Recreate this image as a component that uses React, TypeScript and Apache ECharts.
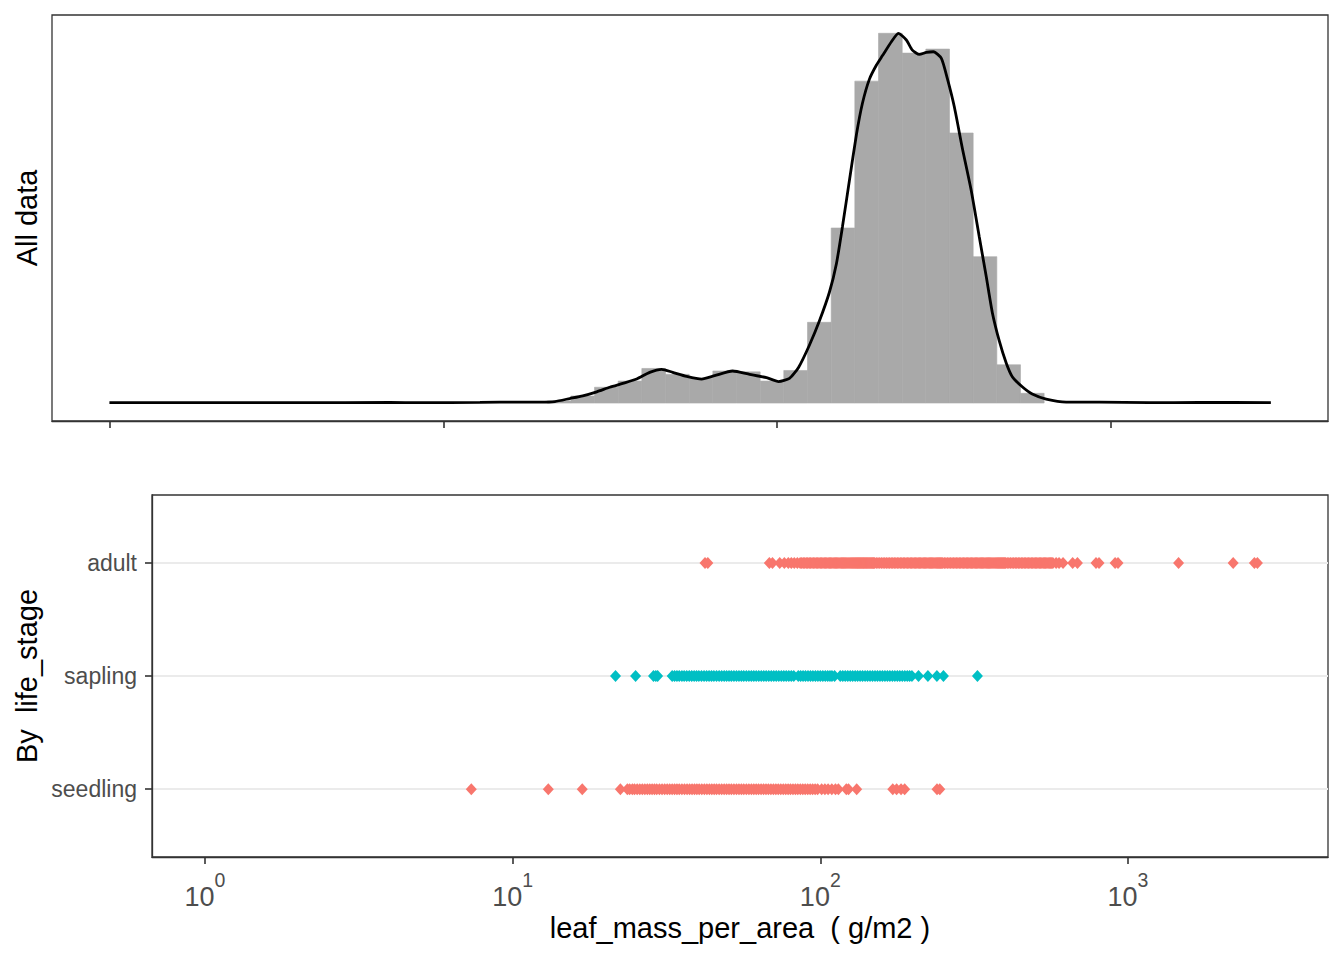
import React, { useEffect, useRef } from 'react';
import * as echarts from 'echarts';

// ---------- DATA ----------
// Histogram of leaf_mass_per_area (log10 bins), bin edges in g/m2 and density heights
const histEdges = [20.48, 24.12, 28.38, 33.41, 39.33, 46.31, 54.52, 64.19, 75.56, 88.96, 104.7, 123.3, 145.2, 170.9, 201.2, 236.9, 278.9, 328.3, 386.5, 455.0, 535.7, 630.6];
const histDensity = [0.012, 0.042, 0.094, 0.131, 0.206, 0.171, 0.147, 0.191, 0.186, 0.131, 0.194, 0.481, 1.043, 1.918, 2.203, 2.085, 2.109, 1.609, 0.872, 0.228, 0.058];

// Kernel density curve (x in g/m2, y density of log10 values)
const densityX = [1.0, 1.87, 3.73, 6.93, 8.52, 12.88, 16.96, 19.47, 21.59, 23.93, 26.17, 28.83, 31.52, 34.47, 37.96, 41.52, 45.11, 48.66, 53.58, 59.4, 64.98, 73.54, 82.69, 92.96, 101.0, 108.9, 115.9, 125.0, 133.9, 143.4, 150.5, 156.9, 164.7, 172.8, 180.1, 189.0, 198.4, 206.8, 219.9, 230.7, 243.8, 254.1, 266.7, 279.9, 293.8, 310.4, 323.4, 339.4, 358.6, 381.5, 403.1, 423.1, 441.0, 462.8, 485.7, 506.2, 542.2, 580.8, 639.6, 734.0, 921.3, 1300, 1834, 3012];
const densityY = [0.002, 0.002, 0.002, 0.004, 0.002, 0.004, 0.006, 0.006, 0.009, 0.027, 0.043, 0.067, 0.094, 0.117, 0.143, 0.183, 0.201, 0.183, 0.159, 0.143, 0.163, 0.191, 0.171, 0.151, 0.128, 0.147, 0.212, 0.346, 0.49, 0.66, 0.83, 1.05, 1.329, 1.6, 1.786, 1.93, 2.014, 2.07, 2.153, 2.203, 2.163, 2.103, 2.077, 2.089, 2.093, 2.054, 1.934, 1.765, 1.52, 1.265, 0.991, 0.752, 0.54, 0.37, 0.237, 0.157, 0.097, 0.054, 0.024, 0.006, 0.006, 0.002, 0.004, 0.002];

// Strip plot values (g/m2) by life stage
const adultLMA = [42.2, 43.1, 68.3, 69.9, 73.8, 76.4, 78.7, 80.5, 82.3, 84.2,
  86, 87, 88, 89, 90, 91, 92, 93, 94, 95, 96, 97, 98, 99, 100, 101, 102, 103, 104, 105, 106, 107, 108, 109, 110, 111, 112, 113, 114, 115, 116, 117, 118, 119, 120, 121, 122, 123, 124, 125, 126, 127, 128, 129, 130, 131, 132, 133, 134, 135, 136, 137, 138, 139, 140, 141, 142, 143, 144, 145, 146, 147, 148, 149, 150,
  152, 154, 156, 158, 160, 162, 164, 166, 168, 170, 172, 174, 176, 178, 180, 182, 184, 186, 188, 190, 192, 194, 196, 198, 200, 202, 204, 206, 208, 210, 212, 214, 216, 218, 220, 222, 224, 226, 228, 230, 232, 234, 236, 238, 240, 242, 244, 246, 248, 250,
  253, 256, 259, 262, 265, 268, 271, 274, 277, 280, 283, 286, 289, 292, 295, 298, 301, 304, 307, 310, 313, 316, 319, 322, 325, 328, 331, 334, 337, 340, 343, 346, 349, 352, 355, 358, 361, 364, 367, 370, 373, 376, 379, 382, 385, 388, 391, 394, 397, 400,
  405, 410, 415, 420, 425, 430, 435, 440, 445, 450, 455, 460, 465, 470, 475, 480, 485, 490, 495, 500, 505, 510, 515, 520, 525, 530, 535, 540, 545, 550, 555, 560, 565, 570,
  584, 597, 615, 661, 685, 787, 805, 908, 928, 1460, 2197, 2575, 2634];

const saplingLMA = [21.6, 25.1, 28.7, 29.2, 29.6,
  33.0, 33.6, 34.2, 34.8, 35.5, 36.1, 36.8, 37.5, 38.2, 38.9, 39.6, 40.3, 41.1, 41.9, 42.7, 43.5, 44.3, 45.1, 46.0, 46.9, 47.8, 48.7, 49.6, 50.5, 51.4, 52.4, 53.4, 54.4, 55.4, 56.4, 57.5, 58.6, 59.7, 60.8, 61.9, 63.1, 64.3, 65.5, 66.7, 68.0, 69.3, 70.6, 71.9, 73.3, 74.7, 76.1, 77.5, 79.0, 80.5, 82.0, 84.8, 86.3, 87.9, 89.5, 91.2, 92.9, 94.6, 96.4, 98.2, 100.0, 101.9, 103.8, 105.7, 107.5, 109.1,
  111.3,
  116.1, 118.3, 120.5, 122.8, 125.1, 127.4, 129.8, 132.2, 134.7, 137.2, 139.8, 142.4, 145.1, 147.8, 150.6, 153.4, 156.3, 159.2, 162.2, 165.2, 168.3, 171.5, 174.7, 178.0, 181.3, 184.7, 188.2, 191.7, 195.1, 198.5,
  208.5, 223.7, 239.3, 251.3, 324.1];

const seedlingLMA = [7.34, 13.06, 16.84, 22.4,
  23.6, 24.0, 24.5, 24.9, 25.4, 25.9, 26.4, 26.9, 27.4, 27.9, 28.4, 28.9, 29.4, 30.0, 30.6, 31.2, 31.8, 32.4, 33.0, 33.6, 34.2, 34.8, 35.5, 36.2, 36.9, 37.6, 38.3, 39.0, 39.7, 40.4, 41.2, 42.0, 42.8, 43.6, 44.4, 45.2, 46.0, 46.9, 47.8, 48.7, 49.6, 50.5, 51.4, 52.4, 53.4, 54.4, 55.4, 56.4, 57.5, 58.6, 59.7, 60.8, 61.9, 63.0, 64.2, 65.4, 66.6, 67.8, 69.1, 70.4, 71.7, 73.0, 74.4, 75.8, 77.2, 78.6, 80.0, 81.5, 83.0, 84.5, 86.1, 87.7, 89.3, 91.0, 92.7, 94.4, 96.2, 98.0,
  101.0, 103.5, 106.0, 109.0, 112.0, 114.5, 121.5, 123.5, 131.3, 172, 177, 183, 188, 239.5, 244.5];

// Axis ticks / labels
const xTickExponents = [0, 1, 2, 3];
const stageNames = ['seedling', 'sapling', 'adult'];
const stagePositions = [1, 2, 3];

// ---------- STYLE ----------
const FONT = '"Liberation Sans", Arial, Helvetica, sans-serif';
const SALMON = '#F8766D';
const TEAL = '#00BFC4';
const BAR = '#A9A9A9';
const LOG_MIN = -0.172;
const LOG_MAX = 3.65;

function buildOption() {
  const lg = (v: number) => Math.log10(v);
  const histData = histDensity.map((d, i) => [lg(histEdges[i]), lg(histEdges[i + 1]), d]);
  const densData = densityX.map((x, i) => [lg(x), densityY[i]]);
  const stageSeries = (vals: number[], pos: number, color: string, name: string) => ({
    name,
    type: 'scatter',
    xAxisIndex: 1,
    yAxisIndex: 1,
    symbol: 'diamond',
    symbolSize: [11, 12],
    itemStyle: { color, opacity: 1 },
    data: vals.map((v) => [lg(v), pos]),
    silent: true,
  });

  return {
    animation: false,
    backgroundColor: '#ffffff',
    textStyle: { fontFamily: FONT },
    grid: [
      { left: 52, top: 15, width: 1276, height: 406, show: true, borderColor: '#333333', borderWidth: 1.3, backgroundColor: 'transparent' },
      { left: 152, top: 495, width: 1176, height: 362, show: true, borderColor: '#333333', borderWidth: 1.3, backgroundColor: 'transparent' },
    ],
    xAxis: [
      {
        type: 'value', gridIndex: 0, min: LOG_MIN, max: LOG_MAX,
        axisLine: { show: true, onZero: false, lineStyle: { color: '#333333', width: 1.3 } },
        axisTick: { show: true, customValues: xTickExponents, length: 7, lineStyle: { color: '#333333', width: 1.6 } },
        axisLabel: { show: false },
        splitLine: { show: false },
      },
      {
        type: 'value', gridIndex: 1, min: LOG_MIN, max: LOG_MAX,
        axisLine: { show: true, onZero: false, lineStyle: { color: '#333333', width: 1.3 } },
        axisTick: { show: true, customValues: xTickExponents, length: 7, lineStyle: { color: '#333333', width: 1.6 } },
        axisLabel: {
          show: true,
          customValues: xTickExponents,
          margin: 13,
          formatter: (v: number) => `{b|10}{s|${Math.round(v)}}`,
          rich: {
            b: { fontSize: 27, fontFamily: FONT, color: '#4D4D4D', lineHeight: 40, verticalAlign: 'bottom' },
            s: { fontSize: 19.5, fontFamily: FONT, color: '#4D4D4D', lineHeight: 20, verticalAlign: 'top' },
          },
        },
        splitLine: { show: false },
      },
    ],
    yAxis: [
      {
        type: 'value', gridIndex: 0, min: -0.107, max: 2.312,
        axisLine: { show: false, onZero: false }, axisTick: { show: false }, axisLabel: { show: false }, splitLine: { show: false },
      },
      {
        type: 'value', gridIndex: 1, min: 0.4, max: 3.6,
        axisLine: { show: true, onZero: false, lineStyle: { color: '#333333', width: 1.3 } },
        axisTick: { show: true, customValues: stagePositions, length: 7, lineStyle: { color: '#333333', width: 1.6 } },
        axisLabel: {
          show: true,
          customValues: stagePositions,
          margin: 15,
          fontSize: 23,
          fontFamily: FONT,
          color: '#4D4D4D',
          formatter: (v: number) => stageNames[stagePositions.indexOf(Math.round(v))] || '',
        },
        splitLine: { show: true, lineStyle: { color: '#EBEBEB', width: 2.2 } },
      },
    ],
    series: [
      {
        name: 'hist',
        type: 'custom',
        xAxisIndex: 0,
        yAxisIndex: 0,
        encode: { x: [0, 1], y: 2 },
        data: histData,
        silent: true,
        renderItem: (params: any, api: any) => {
          const p0 = api.coord([api.value(0), api.value(2)]);
          const p1 = api.coord([api.value(1), 0]);
          return {
            type: 'rect',
            shape: { x: p0[0], y: p0[1], width: p1[0] - p0[0], height: p1[1] - p0[1] },
            style: { fill: BAR, stroke: BAR, lineWidth: 0.6 },
          };
        },
      },
      {
        name: 'density',
        type: 'line',
        xAxisIndex: 0,
        yAxisIndex: 0,
        data: densData,
        showSymbol: false,
        symbol: 'none',
        smooth: 0.2,
        lineStyle: { color: '#000000', width: 2.8 },
        silent: true,
        z: 3,
      },
      stageSeries(seedlingLMA, 1, SALMON, 'seedling'),
      stageSeries(saplingLMA, 2, TEAL, 'sapling'),
      stageSeries(adultLMA, 3, SALMON, 'adult'),
    ],
    graphic: [
      {
        type: 'text', x: 27, y: 218, rotation: Math.PI / 2,
        style: { text: 'All data', fontSize: 29, fontFamily: FONT, fill: '#000000', align: 'center', verticalAlign: 'middle' },
      },
      {
        type: 'text', x: 27, y: 676, rotation: Math.PI / 2,
        style: { text: 'By  life_stage', fontSize: 29, fontFamily: FONT, fill: '#000000', align: 'center', verticalAlign: 'middle' },
      },
      {
        type: 'text', x: 740, y: 928,
        style: { text: 'leaf_mass_per_area  ( g/m2 )', fontSize: 29, fontFamily: FONT, fill: '#000000', align: 'center', verticalAlign: 'middle' },
      },
    ],
  };
}

export default function App() {
  const ref = useRef<HTMLDivElement>(null);
  useEffect(() => {
    document.body.style.margin = '0';
    if (!ref.current) return;
    const chart = echarts.init(ref.current, null, { renderer: 'svg' });
    chart.setOption(buildOption() as any);
    return () => chart.dispose();
  }, []);
  return <div ref={ref} style={{ width: 1344, height: 960 }} />;
}
